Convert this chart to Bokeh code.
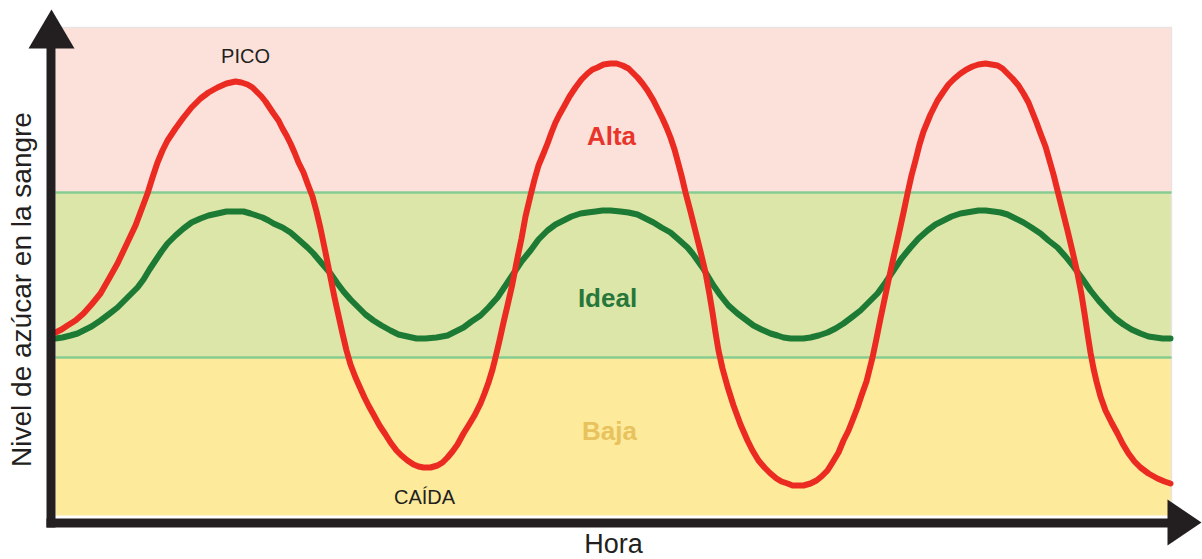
import math
from bokeh.plotting import figure
from bokeh.models import Range1d
from bokeh.core.properties import value
from bokeh.embed import file_html
from bokeh.resources import INLINE

# ---------------- data (time units along x, glucose level units along y) ----------------
time_red = [0, 6, 12, 20, 28, 36, 45, 53, 62, 71, 80, 86, 92, 97, 102, 107, 112, 120, 128,
            136, 145, 153, 162, 171, 180, 186, 192, 197, 202, 206, 210, 214, 218, 223, 227,
            231, 235, 239, 243, 248, 252, 257, 261, 265, 270, 275, 279, 283, 287, 291, 295,
            300, 304, 309, 313, 318, 324, 330, 335, 341, 346, 352, 358, 363, 368, 375, 382,
            387, 392, 397, 402, 408, 413, 419, 425, 429, 433, 437, 440, 444, 448, 452, 457,
            461, 466, 470, 475, 479, 483, 488, 492, 496, 500, 504, 508, 514, 520, 526, 532,
            537, 542, 548, 555, 561, 567, 573, 578, 582, 587, 592, 598, 602, 607, 611, 615,
            619, 622, 626, 630, 635, 640, 645, 650, 654, 657, 660, 663, 667, 672, 678, 685,
            692, 697, 703, 709, 715, 721, 726, 732, 737, 742, 748, 755, 761, 766, 772, 777,
            783, 788, 793, 797, 802, 806, 811, 814, 817, 821, 825, 829, 833, 838, 843, 848,
            852, 856, 860, 864, 868, 875, 882, 888, 893, 899, 905, 911, 917, 923, 930, 936,
            942, 947, 952, 957, 963, 968, 973, 977, 981, 985, 990, 994, 998, 1002, 1007,
            1012, 1017, 1022, 1026, 1029, 1032, 1035, 1038, 1041, 1045, 1050, 1056, 1062,
            1067, 1073, 1079, 1085, 1093, 1102, 1109, 1115]
level_red = [183, 186, 190, 195, 202, 211, 222, 236, 252, 271, 290, 306, 322, 338, 353, 365,
             375, 387, 398, 408, 417, 423, 428, 432, 434, 433, 431, 428, 423, 419, 414, 408,
             402, 395, 387, 380, 372, 363, 353, 343, 332, 319, 304, 287, 263, 238, 218, 200,
             182, 165, 151, 138, 129, 118, 110, 101, 90, 81, 73, 65, 60, 55, 51, 49, 48, 48,
             50, 53, 58, 64, 71, 82, 90, 100, 112, 122, 133, 146, 158, 175, 193, 210, 232,
             253, 277, 299, 320, 336, 350, 362, 372, 383, 393, 401, 408, 419, 428, 436, 442,
             446, 448, 451, 452, 452, 450, 447, 442, 438, 432, 425, 415, 407, 397, 388, 378,
             366, 355, 340, 323, 304, 284, 264, 243, 221, 203, 183, 165, 147, 129, 110, 91,
             75, 65, 55, 48, 42, 37, 34, 32, 30, 30, 30, 32, 35, 39, 45, 53, 63, 75, 85, 95,
             108, 120, 134, 146, 158, 177, 197, 216, 235, 258, 280, 303, 322, 340, 355, 371,
             384, 401, 415, 424, 431, 437, 442, 446, 449, 451, 452, 451, 450, 447, 442, 437,
             430, 422, 413, 403, 393, 382, 369, 355, 341, 325, 305, 285, 264, 242, 221, 202,
             182, 163, 147, 134, 119, 105, 93, 82, 72, 62, 54, 48, 42, 37, 34, 32]

time_green = [0, 7, 15, 22, 28, 36, 45, 53, 62, 68, 75, 82, 88, 94, 100, 106, 112, 120, 128,
              136, 145, 153, 162, 171, 180, 188, 195, 201, 207, 213, 218, 227, 235, 243, 252,
              258, 263, 269, 275, 282, 288, 295, 302, 310, 318, 326, 335, 343, 352, 361, 370,
              381, 392, 400, 408, 416, 425, 433, 442, 450, 458, 466, 475, 483, 492, 500, 508,
              516, 525, 532, 540, 547, 555, 565, 573, 582, 590, 598, 606, 615, 623, 632, 637,
              642, 647, 652, 658, 665, 673, 682, 690, 698, 706, 715, 722, 728, 735, 742, 748,
              755, 763, 772, 780, 788, 796, 805, 813, 822, 830, 838, 846, 855, 863, 872, 880,
              888, 896, 905, 911, 917, 923, 930, 938, 945, 952, 960, 968, 976, 985, 993, 1002,
              1010, 1018, 1026, 1035, 1043, 1052, 1060, 1068, 1076, 1085, 1093, 1100, 1107,
              1115]
level_green = [177, 178, 180, 182, 185, 189, 195, 201, 208, 214, 221, 228, 236, 246, 255, 264,
               272, 280, 287, 293, 297, 300, 302, 304, 304, 304, 302, 300, 298, 295, 292, 288,
               283, 276, 268, 262, 256, 249, 242, 232, 224, 216, 209, 201, 195, 190, 185, 181,
               179, 177, 177, 178, 180, 184, 188, 194, 200, 208, 218, 230, 242, 254, 265, 276,
               285, 291, 295, 299, 302, 303, 304, 305, 305, 304, 303, 301, 297, 293, 288, 283,
               276, 268, 262, 255, 248, 240, 230, 220, 210, 202, 196, 190, 186, 182, 180, 178,
               177, 177, 177, 178, 180, 183, 187, 192, 198, 205, 213, 222, 233, 245, 257, 268,
               277, 285, 291, 295, 299, 302, 303, 304, 305, 305, 304, 303, 301, 297, 293, 288,
               282, 275, 268, 259, 249, 238, 225, 215, 205, 197, 191, 186, 182, 179, 178, 177,
               177]

band_names = ["Baja", "Ideal", "Alta"]
band_low = [0, 158, 323]
band_high = [158, 323, 488]
time_end = 1116

peak_labels = ["PICO", "CAÍDA"]
x_title = "Hora"
y_title = "Nivel de azúcar en la sangre"

# ---------------- styles ----------------
FONT = value("Liberation Sans")
band_fill = ["#FDEA9B", "#DCE6A8", "#FBE1DA"]
band_text_color = ["#E8C25C", "#27773A", "#E8342B"]
RED = "#EB2B22"
GREEN = "#1C7A34"
AXIS = "#231F20"

p = figure(width=1202, height=559,
           x_range=Range1d(-55, 1147), y_range=Range1d(-44, 515),
           output_backend="svg", toolbar_location=None,
           x_axis_type=None, y_axis_type=None, min_border=0,
           outline_line_color=None,
           background_fill_color="white", border_fill_color="white")
p.grid.grid_line_color = None

# bands
p.quad(left=[0] * 3, right=[time_end] * 3, bottom=band_low, top=band_high,
       fill_color=band_fill, line_color=None)
# faint outline of the band area
p.line(x=[0, time_end, time_end], y=[band_high[-1], band_high[-1], band_low[0]],
       line_color="#E9E4E2", line_width=1.5)
# borders of the ideal band
for yb in (band_low[1], band_high[1]):
    p.line(x=[0, time_end], y=[yb, yb], line_color="#86CC90", line_width=2.5)

# curves
p.line(x=time_green, y=level_green, line_color=GREEN, line_width=6, line_join="round",
       line_cap="round")
p.line(x=time_red, y=level_red, line_color=RED, line_width=6, line_join="round",
       line_cap="round")

# band labels
p.text(x=[554, 552, 556], y=[84.5, 218, 380], text=band_names, text_color=band_text_color,
       text_font=FONT, text_font_size="26px", text_font_style="bold",
       text_align="center", text_baseline="middle")

# peak / drop labels
p.text(x=[190, 369], y=[460, 18.5], text=peak_labels, text_color="#231F20",
       text_font=FONT, text_font_size="20px",
       text_align="center", text_baseline="middle")

# axis arrows
p.quad(left=[-9], right=[0], bottom=[-12], top=[468], fill_color=AXIS, line_color=None)
p.patch(x=[-27, 19, -4], y=[467, 467, 506], fill_color=AXIS, line_color=None)
p.quad(left=[-9], right=[1113], bottom=[-12], top=[-3], fill_color=AXIS, line_color=None)
p.patch(x=[1112, 1112, 1146], y=[16, -30, -7], fill_color=AXIS, line_color=None)

# axis titles
p.text(x=[558], y=[-28.5], text=[x_title], text_color="#231F20", text_font=FONT,
       text_font_size="27px", text_align="center", text_baseline="middle")
p.text(x=[-34.5], y=[226], text=[y_title], text_color="#231F20", text_font=FONT,
       text_font_size="28px", text_align="center", text_baseline="middle",
       angle=math.pi / 2)

open("out.html", "w").write(file_html(p, INLINE))
